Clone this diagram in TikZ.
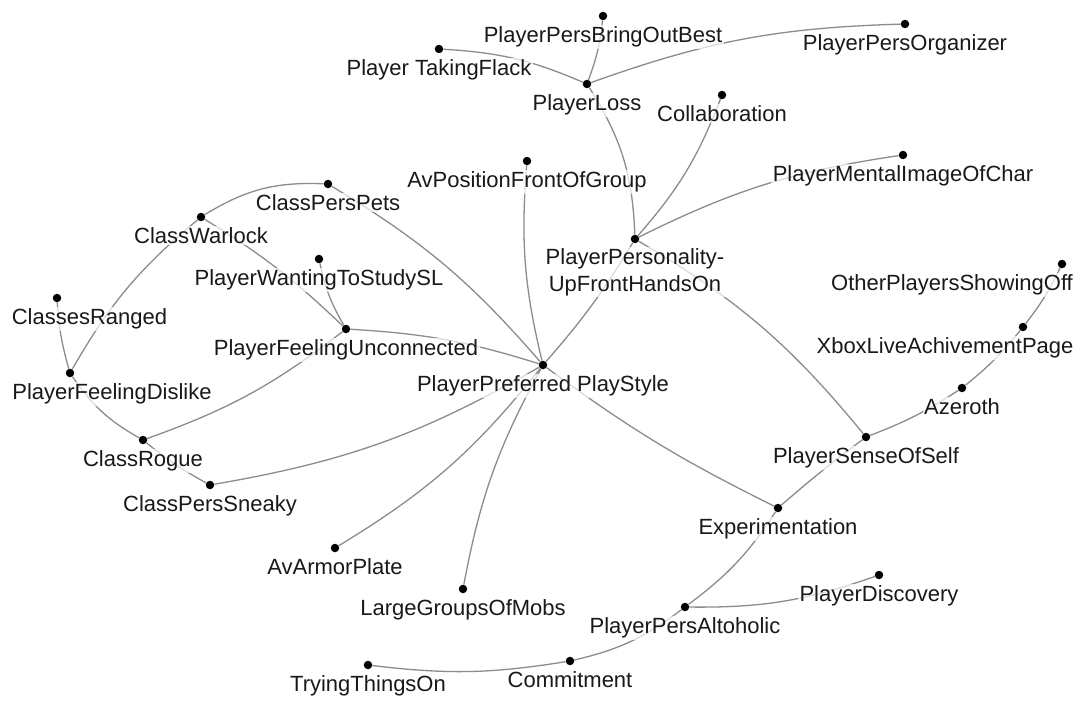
\documentclass[tikz,border=0pt]{standalone}
\usepackage{fontspec}
\setmainfont{Liberation Sans}
\definecolor{edgegray}{RGB}{140,140,140}
\definecolor{labeltext}{RGB}{25,25,25}
\tikzset{
  dot/.style={circle, fill=black, draw=none, inner sep=0pt, minimum size=8.5pt},
  lbl/.style={anchor=base, text=labeltext, font=\fontsize{22}{27}\selectfont,
              inner sep=1.5pt, fill=white, fill opacity=0.7, text opacity=1},
  edge/.style={draw=edgegray, line width=1.3pt},
}
\begin{document}
\begin{tikzpicture}[x=1pt, y=1pt]
\fill[white] (0,0) rectangle (1080,-701);
\useasboundingbox (0,0) rectangle (1080,-701);

% vertices
\node[dot] (flack)     at (439,-49)  {};
\node[dot] (best)      at (603,-16)  {};
\node[dot] (organizer) at (905,-24)  {};
\node[dot] (loss)      at (587,-84)  {};
\node[dot] (collab)    at (722,-95)  {};
\node[dot] (mental)    at (903,-155) {};
\node[dot] (avpos)     at (527,-161) {};
\node[dot] (persona)   at (635,-239) {};
\node[dot] (preferred) at (543,-365) {};
\node[dot] (pets)      at (328,-184) {};
\node[dot] (warlock)   at (201,-217) {};
\node[dot] (wanting)   at (319,-259) {};
\node[dot] (ranged)    at (57,-298)  {};
\node[dot] (unconn)    at (346,-329) {};
\node[dot] (dislike)   at (70,-373)  {};
\node[dot] (rogue)     at (143,-440) {};
\node[dot] (sneaky)    at (210,-485) {};
\node[dot] (armor)     at (335,-548) {};
\node[dot] (mobs)      at (463,-589) {};
\node[dot] (other)     at (1062,-264) {};
\node[dot] (xbox)      at (1023,-327) {};
\node[dot] (azeroth)   at (962,-388) {};
\node[dot] (sense)     at (866,-437) {};
\node[dot] (experiment) at (778,-508) {};
\node[dot] (discovery) at (879,-575) {};
\node[dot] (altoholic) at (685,-607) {};
\node[dot] (commit)    at (570,-661) {};
\node[dot] (trying)    at (368,-665) {};

% connectors
\draw[edge] (flack) to[bend left=10] (loss);
\draw[edge] (best) to[bend left=7] (loss);
\draw[edge] (loss) to[bend left=9] (organizer);
\draw[edge] (loss) to[bend left=15] (persona);
\draw[edge] (collab) to[bend left=10] (persona);
\draw[edge] (mental) to[bend right=9] (persona);
\draw[edge] (persona) to[bend left=5] (preferred);
\draw[edge] (persona) to[bend left=10] (sense);
\draw[edge] (avpos) to[bend right=9] (preferred);
\draw[edge] (pets) to[bend left=9] (preferred);
\draw[edge] (pets) to[bend right=17] (warlock);
\draw[edge] (warlock) to[bend left=6] (unconn);
\draw[edge] (warlock) to[bend right=10] (dislike);
\draw[edge] (wanting) to[bend right=9] (unconn);
\draw[edge] (unconn) to[bend left=7] (preferred);
\draw[edge] (unconn) to[bend left=9] (rogue);
\draw[edge] (ranged) to[bend right=6] (dislike);
\draw[edge] (dislike) to[bend right=13] (rogue);
\draw[edge] (rogue) to[bend right=5] (sneaky);
\draw[edge] (sneaky) to[bend right=10] (preferred);
\draw[edge] (preferred) to[bend left=10] (armor);
\draw[edge] (preferred) to[bend right=9] (mobs);
\draw[edge] (preferred) to[bend right=5] (experiment);
\draw[edge] (sense) to[bend right=2] (experiment);
\draw[edge] (sense) to[bend right=6] (azeroth);
\draw[edge] (azeroth) to[bend right=6] (xbox);
\draw[edge] (xbox) to[bend right=6] (other);
\draw[edge] (experiment) to[bend left=10] (altoholic);
\draw[edge] (altoholic) to[bend right=10] (discovery);
\draw[edge] (altoholic) to[bend left=12] (commit);
\draw[edge] (commit) to[bend left=8] (trying);

% captions, set under their dots
\path (flack) ++(0,-26.5) node[lbl] (flack-t) {Player TakingFlack};
\path (best) ++(0,-26.5) node[lbl] (best-t) {PlayerPersBringOutBest};
\path (organizer) ++(0,-26.5) node[lbl] (organizer-t) {PlayerPersOrganizer};
\path (loss) ++(0,-26.5) node[lbl] (loss-t) {PlayerLoss};
\path (collab) ++(0,-26.5) node[lbl] (collab-t) {Collaboration};
\path (mental) ++(0,-26.5) node[lbl] (mental-t) {PlayerMentalImageOfChar};
\path (avpos) ++(0,-26.5) node[lbl] (avpos-t) {AvPositionFrontOfGroup};
\path (persona) ++(0,-52) node[lbl, align=center] (persona-t) {PlayerPersonality-\\UpFrontHandsOn};
\path (preferred) ++(0,-26.5) node[lbl] (preferred-t) {PlayerPreferred PlayStyle};
\path (pets) ++(0,-26.5) node[lbl] (pets-t) {ClassPersPets};
\path (warlock) ++(0,-26.5) node[lbl] (warlock-t) {ClassWarlock};
\path (wanting) ++(0,-26.5) node[lbl] (wanting-t) {PlayerWantingToStudySL};
\path (ranged) ++(32.5,-26.5) node[lbl] (ranged-t) {ClassesRanged};
\path (unconn) ++(0,-26.5) node[lbl] (unconn-t) {PlayerFeelingUnconnected};
\path (dislike) ++(42,-26.5) node[lbl] (dislike-t) {PlayerFeelingDislike};
\path (rogue) ++(0,-26.5) node[lbl] (rogue-t) {ClassRogue};
\path (sneaky) ++(0,-26.5) node[lbl] (sneaky-t) {ClassPersSneaky};
\path (armor) ++(0,-26.5) node[lbl] (armor-t) {AvArmorPlate};
\path (mobs) ++(0,-26.5) node[lbl] (mobs-t) {LargeGroupsOfMobs};
\path (other) ++(-110,-26.5) node[lbl] (other-t) {OtherPlayersShowingOff};
\path (xbox) ++(-78,-26.5) node[lbl] (xbox-t) {XboxLiveAchivementPage};
\path (azeroth) ++(0,-26.5) node[lbl] (azeroth-t) {Azeroth};
\path (sense) ++(0,-26.5) node[lbl] (sense-t) {PlayerSenseOfSelf};
\path (experiment) ++(0,-26.5) node[lbl] (experiment-t) {Experimentation};
\path (discovery) ++(0,-26.5) node[lbl] (discovery-t) {PlayerDiscovery};
\path (altoholic) ++(0,-26.5) node[lbl] (altoholic-t) {PlayerPersAltoholic};
\path (commit) ++(0,-26.5) node[lbl] (commit-t) {Commitment};
\path (trying) ++(0,-26.5) node[lbl] (trying-t) {TryingThingsOn};
\end{tikzpicture}
\end{document}
